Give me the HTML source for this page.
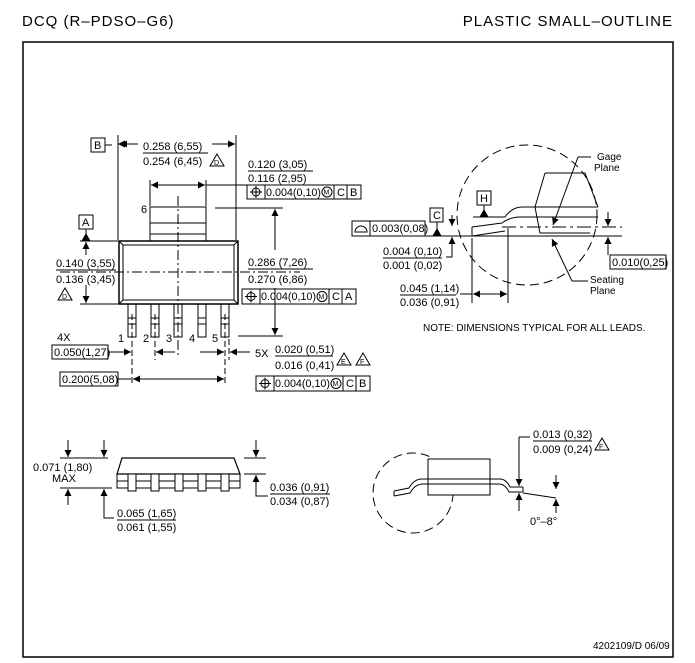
<!DOCTYPE html>
<html><head><meta charset="utf-8"><style>
html,body{margin:0;padding:0;background:#fff;}
svg{display:block;}
text{font-family:"Liberation Sans",sans-serif;font-size:11px;fill:#000;}
.t{font-size:15px;}
</style></head><body>
<svg width="695" height="663" viewBox="0 0 695 663" xmlns="http://www.w3.org/2000/svg">
<defs>
<marker id="a" viewBox="0 0 10 10" refX="10" refY="5" markerWidth="9" markerHeight="7" orient="auto-start-reverse" markerUnits="userSpaceOnUse"><path d="M0,0L10,5L0,10z" fill="#000"/></marker>
</defs>
<g stroke="#000" fill="none" stroke-width="1">
<text x="22" y="26" class="t" stroke="none" letter-spacing="1">DCQ (R–PDSO–G6)</text>
<text x="673" y="26" class="t" stroke="none" text-anchor="end" letter-spacing="1">PLASTIC SMALL–OUTLINE</text>
<rect x="23" y="42" width="650" height="615" stroke-width="1.5"/>

<!-- top view -->
<rect x="119" y="241" width="119" height="63" stroke-width="1.5"/>
<rect x="123" y="245" width="111" height="55"/>
<line x1="119" y1="241" x2="123" y2="245"/><line x1="238" y1="241" x2="234" y2="245"/>
<line x1="119" y1="304" x2="123" y2="300"/><line x1="238" y1="304" x2="234" y2="300"/>
<path d="M150,241V207H206V241M150,223H206M150,234H206"/>
<g>
<rect x="128" y="304" width="8" height="33"/><rect x="151" y="304" width="8" height="33"/>
<rect x="174" y="304" width="8" height="33"/><rect x="198" y="304" width="8" height="33"/>
<rect x="221" y="304" width="8" height="33"/>
<path d="M128,318H136M128,324H136M151,318H159M151,324H159M174,318H182M174,324H182M198,318H206M198,324H206M221,318H229M221,324H229"/>
</g>
<line x1="178" y1="196" x2="178" y2="356" stroke-dasharray="10,3,2,3"/>
<line x1="60" y1="272" x2="300" y2="272" stroke-dasharray="10,3,2,3"/>
<path d="M132,314V386M155,314V360M225,314V386M229,330V360" stroke-dasharray="6,3"/>
<text x="118" y="342" stroke="none">1</text><text x="143" y="342" stroke="none">2</text>
<text x="166" y="342" stroke="none">3</text><text x="189" y="342" stroke="none">4</text>
<text x="212" y="342" stroke="none">5</text><text x="141" y="213" stroke="none">6</text>

<!-- width dim -->
<path d="M118,135V240M236,135V240"/>
<line x1="125" y1="144" x2="118" y2="144" marker-end="url(#a)"/>
<line x1="138" y1="144" x2="120" y2="144" marker-end="url(#a)"/>
<line x1="212" y1="144" x2="235" y2="144" marker-end="url(#a)"/>
<rect x="91" y="138" width="14" height="14"/><text x="94" y="149" stroke="none">B</text>
<line x1="105" y1="145" x2="112" y2="145"/>
<text x="143" y="150" stroke="none">0.258 (6,55)</text>
<line x1="143" y1="153" x2="208" y2="153"/>
<text x="143" y="165" stroke="none">0.254 (6,45)</text>
<path d="M210,166L217,154L224,166Z"/><text x="214" y="165" stroke="none" style="font-size:7px">D</text>

<!-- tab dim -->
<path d="M150,180V206M206,180V206"/>
<line x1="178" y1="185" x2="151" y2="185" marker-end="url(#a)"/>
<line x1="178" y1="185" x2="205" y2="185" marker-end="url(#a)"/>
<line x1="206" y1="185" x2="247" y2="185"/>
<text x="248" y="168" stroke="none">0.120 (3,05)</text>
<line x1="248" y1="171" x2="313" y2="171"/>
<text x="248" y="182" stroke="none">0.116 (2,95)</text>
<rect x="247" y="185" width="114" height="14"/>
<path d="M265,185V199M334,185V199M347,185V199"/>
<circle cx="256" cy="192" r="4"/><path d="M256,186V198M250,192H262"/>
<text x="266" y="196" stroke="none" textLength="55" lengthAdjust="spacingAndGlyphs">0.004(0,10)</text>
<circle cx="327" cy="192" r="5"/><text x="323.5" y="194.5" stroke="none" style="font-size:7px">M</text>
<text x="337" y="196" stroke="none">C</text><text x="350" y="196" stroke="none">B</text>

<!-- overall length -->
<path d="M215,208H283M238,336H283"/>
<line x1="275" y1="250" x2="275" y2="209" marker-end="url(#a)"/>
<line x1="275" y1="288" x2="275" y2="335" marker-end="url(#a)"/>
<text x="248" y="266" stroke="none">0.286 (7,26)</text>
<line x1="248" y1="269" x2="313" y2="269"/>
<text x="248" y="283" stroke="none">0.270 (6,86)</text>
<rect x="242" y="289" width="114" height="15"/>
<path d="M260,289V304M329,289V304M342,289V304"/>
<circle cx="251" cy="296.5" r="4"/><path d="M251,290.5V302.5M245,296.5H257"/>
<text x="261" y="300" stroke="none" textLength="55" lengthAdjust="spacingAndGlyphs">0.004(0,10)</text>
<circle cx="322" cy="296.5" r="5"/><text x="318.5" y="299" stroke="none" style="font-size:7px">M</text>
<text x="332" y="300" stroke="none">C</text><text x="345" y="300" stroke="none">A</text>

<!-- body width -->
<path d="M80,241H118M80,304H118"/>
<rect x="79" y="215" width="14" height="14"/><text x="82" y="226" stroke="none">A</text>
<path d="M86,229V236"/><path d="M82,241L86,234L90,241Z" fill="#000"/>
<line x1="86" y1="255" x2="86" y2="242" marker-end="url(#a)"/>
<line x1="86" y1="285" x2="86" y2="303" marker-end="url(#a)"/>
<text x="56" y="267" stroke="none">0.140 (3,55)</text>
<line x1="56" y1="270" x2="116" y2="270"/>
<text x="56" y="283" stroke="none">0.136 (3,45)</text>
<path d="M58,300L65,288L72,300Z"/><text x="62" y="299" stroke="none" style="font-size:7px">D</text>

<!-- bottom dims -->
<text x="57" y="341" stroke="none">4X</text>
<rect x="52" y="345" width="56" height="14"/><text x="54" y="356" stroke="none">0.050(1,27)</text>
<line x1="108" y1="352" x2="131" y2="352" marker-end="url(#a)"/>
<line x1="175" y1="352" x2="156" y2="352" marker-end="url(#a)"/>
<line x1="200" y1="352" x2="224" y2="352" marker-end="url(#a)"/>
<line x1="250" y1="352" x2="230" y2="352" marker-end="url(#a)"/>
<text x="255" y="357" stroke="none">5X</text>
<text x="275" y="353" stroke="none">0.020 (0,51)</text>
<line x1="275" y1="356" x2="333" y2="356"/>
<text x="275" y="369" stroke="none">0.016 (0,41)</text>
<path d="M337,365L344,353L351,365Z"/><text x="341" y="364" stroke="none" style="font-size:7px">E</text>
<path d="M356,365L363,353L370,365Z"/><text x="360" y="364" stroke="none" style="font-size:7px">F</text>
<rect x="60" y="372" width="58" height="14"/><text x="62" y="383" stroke="none">0.200(5,08)</text>
<line x1="118" y1="379" x2="131" y2="379"/>
<line x1="178" y1="379" x2="133" y2="379" marker-end="url(#a)"/>
<line x1="178" y1="379" x2="224" y2="379" marker-end="url(#a)"/>
<rect x="256" y="376" width="114" height="15"/>
<path d="M274,376V391M343,376V391M356,376V391"/>
<circle cx="265" cy="383.5" r="4"/><path d="M265,377.5V389.5M259,383.5H271"/>
<text x="275" y="387" stroke="none" textLength="55" lengthAdjust="spacingAndGlyphs">0.004(0,10)</text>
<circle cx="336" cy="383.5" r="5"/><text x="332.5" y="386" stroke="none" style="font-size:7px">M</text>
<text x="346" y="387" stroke="none">C</text><text x="359" y="387" stroke="none">B</text>

<!-- detail top right -->
<circle cx="527" cy="215" r="70" stroke-dasharray="9,5"/>
<line x1="452" y1="236" x2="622" y2="236"/>
<line x1="502" y1="227" x2="622" y2="227" stroke-dasharray="14,4,3,4"/>
<path d="M473,217H505Q512,207 522,207H598M472,227L502,223Q510,217 520,217H598M472,236L505,231"/>
<path d="M472,227V236"/>
<path d="M545,173H585L598,207M545,173L535,207L540,233H590"/>
<rect x="477" y="191" width="14" height="14"/><text x="480" y="202" stroke="none">H</text>
<path d="M484,205V211"/><path d="M480,217L484,210L488,217Z" fill="#000"/>
<rect x="430" y="208" width="13" height="14"/><text x="433" y="219" stroke="none">C</text>
<path d="M437,222V230"/><path d="M433,236L437,229L441,236Z" fill="#000"/>
<rect x="352" y="221" width="73" height="15"/><path d="M370,221V236"/>
<path d="M355,232A6,6 0 0 1 367,232Z"/>
<text x="372" y="232" stroke="none">0.003(0,08)</text>
<line x1="425" y1="236" x2="452" y2="236"/>
<line x1="452" y1="215" x2="452" y2="226" marker-end="url(#a)"/>
<line x1="452" y1="250" x2="452" y2="237" marker-end="url(#a)"/>
<path d="M452,250V257H446"/>
<text x="383" y="255" stroke="none">0.004 (0,10)</text>
<line x1="383" y1="258" x2="442" y2="258"/>
<text x="383" y="269" stroke="none">0.001 (0,02)</text>
<path d="M472,238V303M508,228V303"/>
<line x1="490" y1="294" x2="473" y2="294" marker-end="url(#a)"/>
<line x1="490" y1="294" x2="507" y2="294" marker-end="url(#a)"/>
<line x1="460" y1="294" x2="472" y2="294"/>
<text x="400" y="292" stroke="none">0.045 (1,14)</text>
<line x1="400" y1="295" x2="456" y2="295"/>
<text x="400" y="306" stroke="none">0.036 (0,91)</text>
<line x1="608" y1="212" x2="608" y2="226" marker-end="url(#a)"/>
<line x1="608" y1="255" x2="608" y2="237" marker-end="url(#a)"/>
<rect x="610" y="255" width="56" height="14"/><text x="612" y="266" stroke="none">0.010(0,25)</text>
<text x="597" y="160" stroke="none" style="font-size:10px">Gage</text>
<text x="594" y="171" stroke="none" style="font-size:10px">Plane</text>
<path d="M591,157H578"/><line x1="578" y1="157" x2="553" y2="225" marker-end="url(#a)"/>
<text x="590" y="283" stroke="none" style="font-size:10px">Seating</text>
<text x="590" y="294" stroke="none" style="font-size:10px">Plane</text>
<path d="M588,281H572"/><line x1="572" y1="281" x2="552" y2="239" marker-end="url(#a)"/>
<text x="423" y="331" stroke="none" style="font-size:10px">NOTE: DIMENSIONS TYPICAL FOR ALL LEADS.</text>

<!-- side view bottom left -->
<path d="M122,458H234L240,474H117Z" stroke-width="1.2"/>
<rect x="117" y="474" width="123" height="14"/>
<path d="M117,481H240"/>
<g fill="#fff">
<rect x="128" y="474" width="8" height="17"/><rect x="151" y="474" width="8" height="17"/>
<rect x="175" y="474" width="8" height="17"/><rect x="198" y="474" width="8" height="17"/>
<rect x="221" y="474" width="8" height="17"/>
</g>
<path d="M60,458H108M60,488H112M244,458H266M244,474H266"/>
<line x1="68" y1="440" x2="68" y2="457" marker-end="url(#a)"/>
<line x1="104" y1="440" x2="104" y2="457" marker-end="url(#a)"/>
<line x1="68" y1="505" x2="68" y2="489" marker-end="url(#a)"/>
<line x1="104" y1="505" x2="104" y2="489" marker-end="url(#a)"/>
<path d="M104,505V518H114"/>
<text x="33" y="471" stroke="none">0.071 (1,80)</text>
<text x="52" y="482" stroke="none">MAX</text>
<text x="117" y="517" stroke="none">0.065 (1,65)</text>
<line x1="117" y1="520" x2="176" y2="520"/>
<text x="117" y="531" stroke="none">0.061 (1,55)</text>
<line x1="256" y1="440" x2="256" y2="457" marker-end="url(#a)"/>
<line x1="256" y1="490" x2="256" y2="475" marker-end="url(#a)"/>
<path d="M256,490V496H268"/>
<text x="270" y="491" stroke="none">0.036 (0,91)</text>
<line x1="270" y1="494" x2="330" y2="494"/>
<text x="270" y="505" stroke="none">0.034 (0,87)</text>

<!-- side view bottom right -->
<circle cx="413" cy="493" r="40" stroke-dasharray="9,5"/>
<rect x="428" y="459" width="62" height="36" fill="#fff"/>
<path d="M394,491L409,488Q414,479 422,479H500Q506,479 510,487H523M394,496L410,493Q415,484 423,484H499Q505,484 509,492H523M394,491V496M523,487V492"/>
<path d="M523,493L556,498"/>
<line x1="519" y1="437" x2="519" y2="486" marker-end="url(#a)"/>
<line x1="519" y1="511" x2="519" y2="493" marker-end="url(#a)"/>
<path d="M519,437H530"/>
<text x="533" y="438" stroke="none">0.013 (0,32)</text>
<line x1="533" y1="441" x2="592" y2="441"/>
<text x="533" y="453" stroke="none">0.009 (0,24)</text>
<path d="M595,450L602,438L609,450Z"/><text x="599" y="449" stroke="none" style="font-size:7px">F</text>
<line x1="556" y1="475" x2="556" y2="489" marker-end="url(#a)"/>
<line x1="556" y1="513" x2="556" y2="499" marker-end="url(#a)"/>
<text x="530" y="525" stroke="none">0°–8°</text>

<text x="593" y="649" stroke="none" style="font-size:10px">4202109/D 06/09</text>
</g>
</svg>
</body></html>
